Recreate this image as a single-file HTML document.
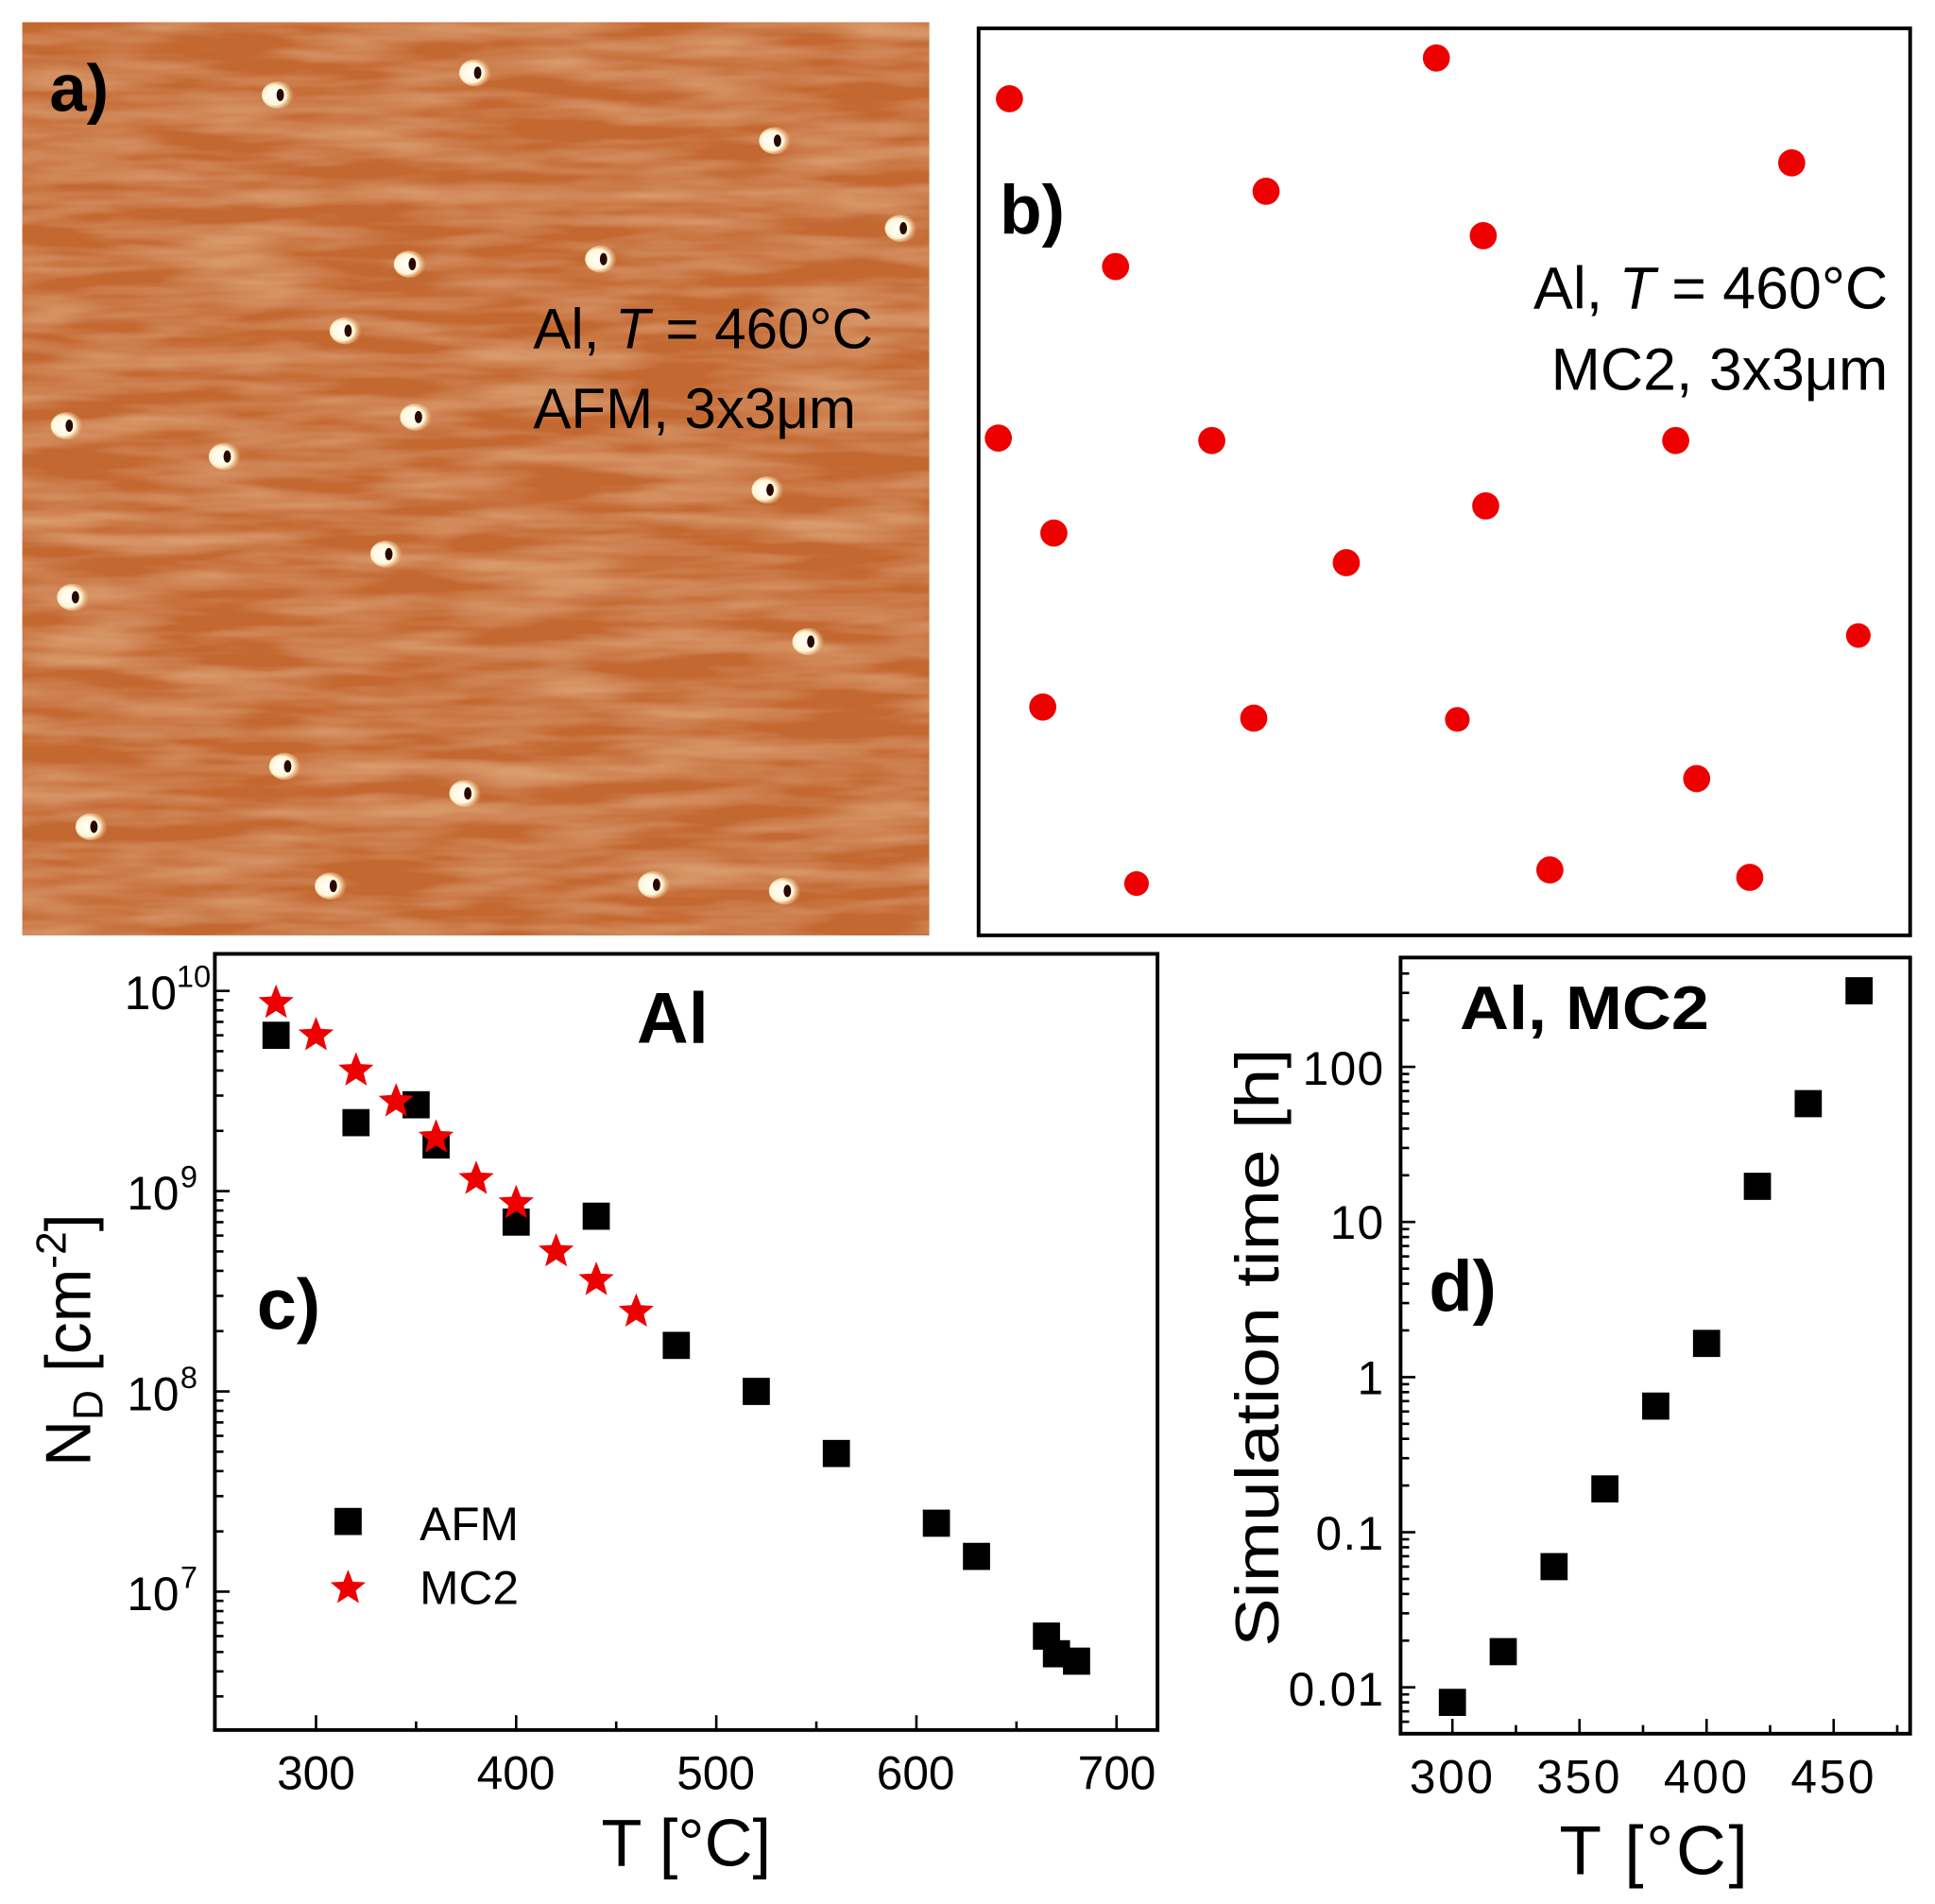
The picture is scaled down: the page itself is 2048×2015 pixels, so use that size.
<!DOCTYPE html>
<html><head><meta charset="utf-8"><style>
html,body{margin:0;padding:0;background:#fff;}
svg{display:block;}
text{font-family:"Liberation Sans",sans-serif;}
</style></head><body>
<svg id="s" width="2048" height="2015" viewBox="0 0 1568 1543" xmlns="http://www.w3.org/2000/svg">
<defs>
<filter id="tex" x="0" y="0" width="100%" height="100%">
<feTurbulence type="fractalNoise" baseFrequency="0.008 0.06" numOctaves="3" seed="4" result="n"/>
<feColorMatrix in="n" type="matrix" values="0 0 0 0 0.85  0 0 0 0 0.52  0 0 0 0 0.27  0 0 0 1.0 -0.35" result="c"/>
<feComposite in="c" in2="SourceGraphic" operator="over"/>
</filter>
<radialGradient id="dot" cx="0.4" cy="0.5" r="0.6">
<stop offset="0" stop-color="#fff"/><stop offset="0.6" stop-color="#fff6d8"/><stop offset="1" stop-color="#f0c080" stop-opacity="0"/>
</radialGradient>
<path id="star" d="M0,-15 L3.82,-5.26 L14.27,-4.64 L6.18,2.01 L8.82,12.14 L0,6.5 L-8.82,12.14 L-6.18,2.01 L-14.27,-4.64 L-3.82,-5.26Z" fill="#ee0000"/>
<rect id="sq" x="-11" y="-11" width="22" height="22" fill="#000"/>
</defs>

<!-- Panel a -->
<rect x="18" y="18" width="735" height="740" fill="#c46830"/>
<rect x="18" y="18" width="735" height="740" fill="#c46830" filter="url(#tex)"/>
<g id="afmdots"></g>
<text x="40" y="90" font-size="54" font-weight="bold" fill="#000">a)</text>
<text x="432" y="282" font-size="46" fill="#000">Al, <tspan font-style="italic">T</tspan> = 460°C</text>
<text x="432" y="347" font-size="46" fill="#000">AFM, 3x3μm</text>

<!-- Panel b -->
<rect x="793" y="23" width="755" height="735" fill="#fff" stroke="#000" stroke-width="3"/>
<g fill="#ee0000">
<circle cx="818" cy="80" r="11"/><circle cx="1164" cy="47" r="11"/><circle cx="1452" cy="132" r="11"/>
<circle cx="1026" cy="155" r="11"/><circle cx="1202" cy="191" r="11"/><circle cx="904" cy="216" r="11"/>
<circle cx="809" cy="355" r="11"/><circle cx="982" cy="357" r="11"/><circle cx="1358" cy="357" r="11"/>
<circle cx="1204" cy="410" r="11"/><circle cx="854" cy="432" r="11"/><circle cx="1091" cy="456" r="11"/>
<circle cx="1506" cy="515" r="10"/><circle cx="845" cy="573" r="11"/><circle cx="1016" cy="582" r="11"/>
<circle cx="1181" cy="583" r="10"/><circle cx="1375" cy="631" r="11"/><circle cx="921" cy="716" r="10"/>
<circle cx="1256" cy="705" r="11"/><circle cx="1418" cy="711" r="11"/>
</g>
<text x="810" y="189" font-size="56" font-weight="bold">b)</text>
<text x="1530" y="250" font-size="48" text-anchor="end">Al, <tspan font-style="italic">T</tspan> = 460°C</text>
<text x="1530" y="316" font-size="48" text-anchor="end">MC2, 3x3μm</text>

<!-- Panel c -->
<rect x="174" y="773" width="764" height="629" fill="none" stroke="#000" stroke-width="3"/>
<g id="cticks" stroke="#000" stroke-width="2"></g>
<g font-size="38" text-anchor="middle">
<text x="256" y="1450">300</text><text x="418" y="1450">400</text><text x="580" y="1450">500</text><text x="742" y="1450">600</text><text x="905" y="1450">700</text>
</g>
<g font-size="38" text-anchor="end">
<text x="143" y="818">10</text><text x="145" y="980">10</text><text x="145" y="1143">10</text><text x="145" y="1305">10</text>
</g>
<g font-size="25">
<text x="143" y="800">10</text><text x="146" y="962">9</text><text x="146" y="1125">8</text><text x="146" y="1287">7</text>
</g>
<text x="556" y="1512" font-size="54" text-anchor="middle">T [°C]</text>
<text transform="translate(73,1086) rotate(-90)" font-size="52" text-anchor="middle">N<tspan font-size="34" dy="10">D</tspan><tspan dy="-10"> [cm</tspan><tspan font-size="34" dy="-20">-2</tspan><tspan dy="20">]</tspan></text>
<text x="545" y="845" font-size="58" font-weight="bold" text-anchor="middle">Al</text>
<text x="208" y="1077" font-size="58" font-weight="bold">c)</text>
<use href="#sq" x="282" y="1233"/>
<use href="#star" x="282" y="1287"/>
<text x="340" y="1248" font-size="38">AFM</text>
<text x="340" y="1300" font-size="38">MC2</text>
<g>
<use href="#sq" x="223.6" y="839"/><use href="#sq" x="288.4" y="909.8"/><use href="#sq" x="337.1" y="895.3"/>
<use href="#sq" x="353.3" y="927.9"/><use href="#sq" x="418.2" y="990.4"/><use href="#sq" x="483.1" y="985.6"/>
<use href="#sq" x="548" y="1090.3"/><use href="#sq" x="612.8" y="1127.6"/><use href="#sq" x="677.7" y="1177.9"/>
<use href="#sq" x="758.8" y="1234.4"/><use href="#sq" x="791.3" y="1261.3"/><use href="#sq" x="848" y="1325.9"/>
<use href="#sq" x="856.1" y="1340.2"/><use href="#sq" x="872.4" y="1346.2"/>
</g>
<g>
<use href="#star" x="223.6" y="812.8"/><use href="#star" x="256" y="839"/><use href="#star" x="288.4" y="867.6"/>
<use href="#star" x="320.9" y="892.7"/><use href="#star" x="353.3" y="921.9"/><use href="#star" x="385.8" y="955.5"/>
<use href="#star" x="418.2" y="975.1"/><use href="#star" x="450.6" y="1014.2"/><use href="#star" x="483.1" y="1037.4"/>
<use href="#star" x="515.5" y="1063"/>
</g>

<!-- Panel d -->
<rect x="1135" y="776" width="413" height="629" fill="none" stroke="#000" stroke-width="3"/>
<g id="dticks" stroke="#000" stroke-width="2"></g>
<g font-size="38" text-anchor="middle" letter-spacing="2">
<text x="1177" y="1453">300</text><text x="1280" y="1453">350</text><text x="1383" y="1453">400</text><text x="1486" y="1453">450</text>
</g>
<g font-size="38" text-anchor="end" letter-spacing="1">
<text x="1122" y="879">100</text><text x="1122" y="1004">10</text><text x="1122" y="1130">1</text><text x="1122" y="1256">0.1</text><text x="1122" y="1382">0.01</text>
</g>
<text x="1341" y="1519" font-size="56" text-anchor="middle" letter-spacing="2">T [°C]</text>
<text transform="translate(1036,1092) rotate(-90)" font-size="50" text-anchor="middle" textLength="485" lengthAdjust="spacingAndGlyphs">Simulation time [h]</text>
<text x="1183" y="834" font-size="50" font-weight="bold" textLength="202" lengthAdjust="spacingAndGlyphs">Al, MC2</text>
<text x="1158" y="1062" font-size="58" font-weight="bold">d)</text>
<g>
<use href="#sq" x="1177" y="1379.6"/><use href="#sq" x="1218.2" y="1338.5"/><use href="#sq" x="1259.4" y="1269.6"/>
<use href="#sq" x="1300.6" y="1206.6"/><use href="#sq" x="1341.8" y="1139.5"/><use href="#sq" x="1383" y="1088.7"/>
<use href="#sq" x="1424.2" y="961.4"/><use href="#sq" x="1465.4" y="894.4"/><use href="#sq" x="1506.6" y="802.9"/>
</g>
</svg>
<script>
(function(){
var NS="http://www.w3.org/2000/svg";
function ln(g,x1,y1,x2,y2){var l=document.createElementNS(NS,"line");l.setAttribute("x1",x1);l.setAttribute("y1",y1);l.setAttribute("x2",x2);l.setAttribute("y2",y2);g.appendChild(l);}
var c=document.getElementById("cticks");
for(var d=6;d<=10;d++){var y0=803+(10-d)*162.3;
 if(y0>=773&&y0<=1402)ln(c,174,y0,186,y0);
 for(var k=2;k<=9;k++){var y=y0-Math.log10(k)*162.3;if(y>775&&y<1400)ln(c,174,y,181,y);}}
[300,400,500,600,700].forEach(function(t){var x=256+(t-300)*1.622;ln(c,x,1402,x,1390);});
[350,450,550,650].forEach(function(t){var x=256+(t-300)*1.622;ln(c,x,1402,x,1395);});
var g=document.getElementById("dticks");
for(var d=-3;d<=2;d++){var y0=1116-d*125.7;
 if(y0>=776&&y0<=1405)ln(g,1135,y0,1147,y0);
 for(var k=2;k<=9;k++){var y=y0-Math.log10(k)*125.7;if(y>778&&y<1403)ln(g,1135,y,1142,y);}}
[300,350,400,450].forEach(function(t){var x=1177+(t-300)*2.06;ln(g,x,1405,x,1393);});
[325,375,425,475].forEach(function(t){var x=1177+(t-300)*2.06;ln(g,x,1405,x,1398);});
var a=document.getElementById("afmdots");
var P=[[225,77],[385,59],[628,114],[730,185],[332,214],[487,210],[280,268],[337,338],[54,345],[182,370],[622,397],[313,449],[59,484],[655,520],[231,621],[377,643],[74,670],[268,718],[530,717],[636,722]];
P.forEach(function(p){
 var e=document.createElementNS(NS,"ellipse");e.setAttribute("cx",p[0]);e.setAttribute("cy",p[1]);e.setAttribute("rx",13);e.setAttribute("ry",11);e.setAttribute("fill","url(#dot)");a.appendChild(e);
 var h=document.createElementNS(NS,"ellipse");h.setAttribute("cx",p[0]+2);h.setAttribute("cy",p[1]);h.setAttribute("rx",3);h.setAttribute("ry",5);h.setAttribute("fill","#2a0a00");a.appendChild(h);
});
})();
</script>
</body></html>
